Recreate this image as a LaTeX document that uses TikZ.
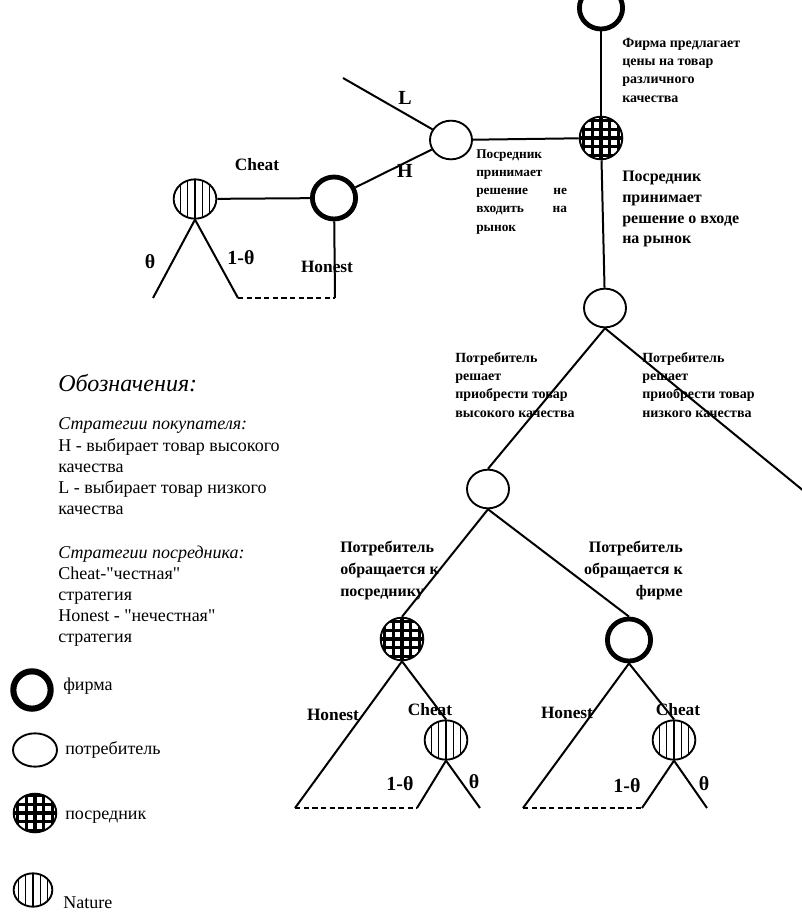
\documentclass[tikz,border=0pt]{standalone}
\usepackage{fontspec}
\setmainfont{Liberation Serif}
\usetikzlibrary{shapes.geometric}

\begin{document}
\begin{tikzpicture}[x=0.75pt, y=-0.75pt,
    edge/.style={line width=1.5pt},
    info/.style={line width=1.2pt, dash pattern=on 4pt off 2.5pt},
    firm/.style={ellipse, draw, line width=3.6pt, inner sep=0,
                 minimum width=32.4pt, minimum height=31.5pt},
    buyer/.style={ellipse, draw, line width=1.4pt, inner sep=0,
                  minimum width=31.5pt, minimum height=29pt},
    broker/.style={ellipse, draw, line width=1.4pt, inner sep=0,
                   minimum width=32pt, minimum height=32pt,
                   path picture={\foreach \k in {-3,...,3}{
                     \draw[line width=2.4pt]
                       ([xshift=\k*6.5pt]path picture bounding box.south) --
                       ([xshift=\k*6.5pt]path picture bounding box.north);
                     \draw[line width=2.4pt]
                       ([yshift=\k*6.5pt]path picture bounding box.west) --
                       ([yshift=\k*6.5pt]path picture bounding box.east);}}},
    nature/.style={ellipse, draw, line width=1.4pt, inner sep=0,
                   minimum width=32pt, minimum height=29.5pt,
                   path picture={\foreach \k in {-3,...,3}{
                     \draw[line width=1pt]
                       ([xshift=\k*5.4pt]path picture bounding box.south) --
                       ([xshift=\k*5.4pt]path picture bounding box.north);}}},
    lab/.style={font=\bfseries\fontsize{13}{15}\selectfont, inner sep=0},
    prob/.style={font=\bfseries\fontsize{15}{18}\selectfont, inner sep=0},
    big/.style={font=\bfseries\fontsize{15}{18}\selectfont, inner sep=0},
    note/.style={font=\bfseries\fontsize{10.5}{13.7}\selectfont,
                 align=left, inner sep=0, anchor=north west},
    key/.style={font=\fontsize{13.5}{15.75}\selectfont, inner sep=0,
                anchor=west, align=left},
]
    \useasboundingbox (0,0) rectangle (802,918);
    \clip (0,0) rectangle (802,918);

    % upper part of the tree
    \node[firm] (f0) at (601,8) {};
    \node[broker] (b0) at (601,138) {};
    \node[buyer] (c0) at (451,140) {};
    \node[firm] (f1) at (334,198) {};
    \node[nature] (n1) at (195,199) {};
    \coordinate (lend) at (343,78);
    \coordinate (t1a) at (153,298);
    \coordinate (t1b) at (238,298);
    \coordinate (h1) at (335,298);

    \draw[edge] (f0) -- (b0);
    \draw[edge] (b0) -- (c0);
    \draw[edge] (c0) -- (lend);
    \draw[edge] (c0) -- (f1);
    \draw[edge] (f1) -- (n1);
    \draw[edge] (f1) -- (h1);
    \draw[edge] (n1.south) -- (t1a);
    \draw[edge] (n1.south) -- (t1b);
    \draw[info] (t1b) -- (h1);

    \node[big] at (405,98) {L};
    \node[big] at (405,171) {H};
    \node[lab] at (257,165) {Cheat};
    \node[lab] at (327,267) {Honest};
    \node[prob] at (150,262) {θ};
    \node[prob] at (241,258) {1-θ};

    \node[note] at (622,38) {Фирма предлагает\\цены на товар\\различного\\качества};
    \node[note, font=\bfseries\fontsize{10}{13.7}\selectfont, text width=68pt]
        at (476,149) {Посредник\\принимает\\решение\hfill не\\входить\hfill на\\рынок};
    \node[note, font=\bfseries\fontsize{12}{15.5}\selectfont]
        at (622,171) {Посредник\\принимает\\решение о входе\\на рынок};

    % lower part of the tree
    \node[buyer] (c1) at (605,308) {};
    \node[buyer] (c2) at (488,489) {};
    \coordinate (lowend) at (805,492);
    \draw[edge] (b0) -- (c1);
    \draw[edge] (c1.south) -- (c2.north);
    \draw[edge] (c1.south) -- (lowend);

    \node[note] at (455,352) {Потребитель\\решает\\приобрести товар\\высокого качества};
    \node[note] at (642,352) {Потребитель\\решает\\приобрести товар\\низкого качества};

    \node[broker] (b2) at (402,639) {};
    \node[firm] (f2) at (629,640) {};
    \draw[edge] (c2.south) -- (b2.north);
    \draw[edge] (c2.south) -- (f2.north);

    \node[note, font=\bfseries\fontsize{12}{16.5}\selectfont]
        at (340,541) {Потребитель\\обращается к\\посреднику};
    \node[note, anchor=north east, align=right,
          font=\bfseries\fontsize{12}{16.5}\selectfont]
        at (683,541) {Потребитель\\обращается к\\фирме};

    \node[nature] (n2) at (446,740) {};
    \node[nature] (n3) at (674,740) {};
    \coordinate (h2) at (295,808);
    \coordinate (t2a) at (417,808);
    \coordinate (t2b) at (480,808);
    \coordinate (h3) at (523,808);
    \coordinate (t3a) at (642,808);
    \coordinate (t3b) at (707,808);

    \draw[edge] (b2.south) -- (h2);
    \draw[edge] (b2.south) -- (n2.north);
    \draw[edge] (n2.south) -- (t2a);
    \draw[edge] (n2.south) -- (t2b);
    \draw[info] (h2) -- (t2a);
    \draw[edge] (f2.south) -- (h3);
    \draw[edge] (f2.south) -- (n3.north);
    \draw[edge] (n3.south) -- (t3a);
    \draw[edge] (n3.south) -- (t3b);
    \draw[info] (h3) -- (t3a);

    \node[lab] at (333,715) {Honest};
    \node[lab] at (430,710) {Cheat};
    \node[prob] at (400,784) {1-θ};
    \node[prob] at (474,782) {θ};
    \node[lab] at (567,713) {Honest};
    \node[lab] at (678,710) {Cheat};
    \node[prob] at (627,786) {1-θ};
    \node[prob] at (704,784) {θ};

    % legend
    \node[key, font=\itshape\fontsize{18}{22}\selectfont] at (58,383) {Обозначения:};
    \node[key, font=\itshape\fontsize{13.5}{15.75}\selectfont] at (58,425) {Стратегии покупателя:};
    \node[key, anchor=north west] at (58,438)
        {H - выбирает товар высокого\\качества\\L - выбирает товар низкого\\качества};
    \node[key, font=\itshape\fontsize{13.5}{15.75}\selectfont] at (58,554) {Стратегии посредника:};
    \node[key, anchor=north west] at (58,567)
        {Cheat-\textquotedbl честная\textquotedbl\\стратегия\\Honest - \textquotedbl нечестная\textquotedbl\\стратегия};

    \node[firm, line width=4.6pt, minimum width=28pt, minimum height=28pt] (kf) at (32,690) {};
    \node[buyer, minimum width=33pt, minimum height=25pt] (kc) at (35,750) {};
    \node[broker, minimum width=32pt, minimum height=29pt] (kb) at (35,813) {};
    \node[nature, minimum width=29pt, minimum height=25pt] (kn) at (33,890) {};
    \node[key] at (63,686) {фирма};
    \node[key] at (65,750) {потребитель};
    \node[key] at (65,817) {посредник};
    \node[key] at (63,903) {Nature};

\end{tikzpicture}
\end{document}
